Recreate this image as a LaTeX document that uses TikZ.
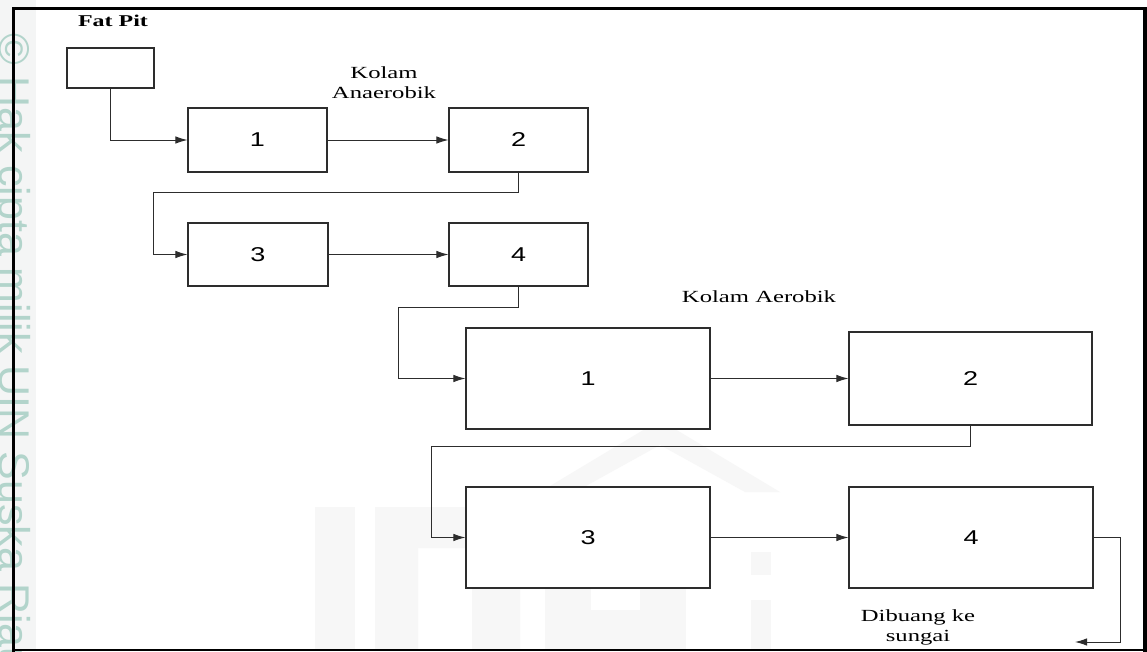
\documentclass[tikz,border=0pt]{standalone}
\usepackage{graphicx}
\usepackage{fontspec}
\setmainfont{Liberation Serif}
\newfontfamily\arialf{Liberation Sans}
\usetikzlibrary{arrows.meta}

\definecolor{boxline}{RGB}{45,45,45}
\definecolor{wmark}{RGB}{178,212,203}
\definecolor{strip}{RGB}{244,245,245}
\definecolor{logo}{RGB}{247,247,247}

\tikzset{
  pond/.style={draw=boxline, line width=1.1pt, fill=white, inner sep=0pt},
  flow/.style={draw=boxline, line width=1pt, -{Latex[length=12pt,width=7.5pt]}},
  lbl/.style={font=\fontsize{17}{20}\selectfont, align=center, inner sep=0pt},
  lblb/.style={font=\bfseries\fontsize{16.5}{20}\selectfont, inner sep=0pt},
  num/.style={font=\arialf\fontsize{20}{22}\selectfont, inner sep=0pt},
  frameline/.style={draw=black, line cap=rect},
}

\begin{document}
\begin{tikzpicture}[x=1pt,y=-1pt]
\useasboundingbox (0,0) rectangle (1147,651);
\fill[white] (0,0) rectangle (1147,651);
\fill[strip] (0,0) rectangle (36,651);

% faint background logo
\fill[logo] (540,492) -- (660,420) -- (780,492) -- (745,492) -- (660,445) -- (575,492) -- cycle;
\fill[logo] (315,507) rectangle (355,651);
\fill[logo, even odd rule] (375,507) rectangle (520,651) (418,548) rectangle (472,651);
\fill[logo] (545,550) rectangle (591,651);
\fill[logo] (640,550) rectangle (686,651);
\fill[logo] (591,610) rectangle (640,651);
\fill[logo] (751,552) rectangle (771,575);
\fill[logo] (751,600) rectangle (771,651);

% side watermark text
\node[rotate=-90, anchor=base west, inner sep=0pt, text=wmark,
      font=\arialf\fontsize{43}{43}\selectfont] (wm) at (-1,33) {© Hak cipta milik UIN Suska Riau};

% frame
\draw[frameline, line width=3.5pt] (13.5,650) -- (13.5,8.5) -- (1145,8.5) -- (1145,650);
\draw[frameline, line width=1.5pt] (13.5,649.8) -- (1145,649.8);

% boxes
\node[pond, minimum width=87pt, minimum height=40pt] (fat) at (110.5,68) {};
\node[pond, minimum width=139pt, minimum height=64pt] (A1) at (257.5,140) {};
\node[pond, minimum width=139pt, minimum height=64pt] (A2) at (518.5,140) {};
\node[pond, minimum width=140pt, minimum height=63pt] (A3) at (258,254.5) {};
\node[pond, minimum width=139pt, minimum height=63pt] (A4) at (518.5,254.5) {};
\node[pond, minimum width=244pt, minimum height=101pt] (B1) at (588,378.5) {};
\node[pond, minimum width=243pt, minimum height=93pt] (B2) at (970.5,378.5) {};
\node[pond, minimum width=244pt, minimum height=101pt] (B3) at (588,537.5) {};
\node[pond, minimum width=244pt, minimum height=101pt] (B4) at (971,537.5) {};

% numbers
\node[num] (nA1) at (A1.center) {\scalebox{1.35}[1]{1}};
\node[num] (nA2) at (A2.center) {\scalebox{1.35}[1]{2}};
\node[num] (nA3) at (A3.center) {\scalebox{1.35}[1]{3}};
\node[num] (nA4) at (A4.center) {\scalebox{1.35}[1]{4}};
\node[num] (nB1) at (B1.center) {\scalebox{1.35}[1]{1}};
\node[num] (nB2) at (B2.center) {\scalebox{1.35}[1]{2}};
\node[num] (nB3) at (B3.center) {\scalebox{1.35}[1]{3}};
\node[num] (nB4) at (B4.center) {\scalebox{1.35}[1]{4}};

% labels
\node[lblb, anchor=base] (tfat) at (113,26) {\scalebox{1.45}[1]{Fat Pit}};
\node[lbl, anchor=base] (tan1) at (384,78) {\scalebox{1.45}[1]{Kolam}};
\node[lbl, anchor=base] (tan2) at (384,98) {\scalebox{1.45}[1]{Anaerobik}};
\node[lbl, anchor=base] (taer) at (759,302) {\scalebox{1.45}[1]{Kolam Aerobik}};
\node[lbl, anchor=base] (tout1) at (918,621) {\scalebox{1.45}[1]{Dibuang ke}};
\node[lbl, anchor=base] (tout2) at (918,641) {\scalebox{1.45}[1]{sungai}};

% connector bends
\coordinate (c1) at (153,192);
\coordinate (c2) at (398,307);
\coordinate (c3) at (431,446);
\coordinate (c4) at (1120,642);
\coordinate (out) at (1075,642);

% connectors
\draw[flow] (fat.south) |- (A1.west);
\draw[flow] (A1.east) -- (A2.west);
\draw[flow] (A2.south) |- (c1) |- (A3.west);
\draw[flow] (A3.east) -- (A4.west);
\draw[flow] (A4.south) |- (c2) |- (B1.west);
\draw[flow] (B1.east) -- (B2.west);
\draw[flow] (B2.south) |- (c3) |- (B3.west);
\draw[flow] (B3.east) -- (B4.west);
\draw[flow] (B4.east) -| (c4) -- (out);
\end{tikzpicture}
\end{document}
